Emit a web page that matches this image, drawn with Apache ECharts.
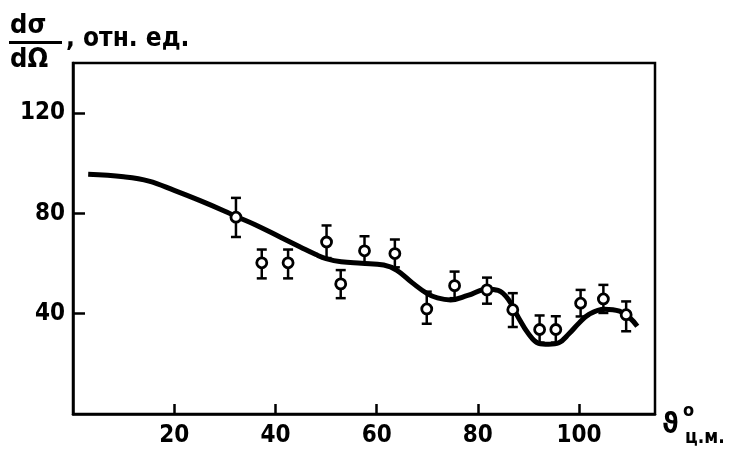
<!DOCTYPE html>
<html>
<head>
<meta charset="utf-8">
<script src="https://cdn.jsdelivr.net/npm/echarts@6/dist/echarts.min.js"></script>
<style>
html,body{margin:0;padding:0;background:#fff;}
#chart{width:730px;height:454px;}
</style>
</head>
<body>
<div id="chart"></div>
<script>
// measured points (angle in c.m. degrees, cross-section in relative units)
const angles = [32.2, 37.3, 42.5, 50.1, 52.9, 57.6, 63.6, 69.9, 75.4, 81.8, 86.9, 92.2, 95.4, 100.3, 104.8, 109.3];
const values = [78.5, 60.3, 60.3, 68.6, 51.9, 65.1, 64.0, 41.9, 51.2, 49.5, 41.6, 33.7, 33.7, 44.2, 45.9, 39.6];
const errUp  = [7.7, 5.3, 5.3, 6.6, 5.5, 5.8, 5.6, 6.9, 5.6, 4.9, 6.6, 5.6, 5.3, 5.3, 5.6, 5.3];
const errDown= [7.9, 6.2, 6.2, 6.4, 5.7, 4.9, 5.5, 5.9, 5.0, 5.5, 6.9, 5.2, 5.2, 5.3, 5.6, 6.6];
// theoretical curve
const curveX = [3, 10, 15, 20, 25, 30, 32, 36, 41, 45, 48, 50, 53, 57, 61.4, 64, 67, 70, 72, 74.6, 78, 81.8, 84, 86, 88, 90, 92, 94, 96, 98, 100, 102, 105, 108, 110, 111.5];
const curveY = [95.6, 94.6, 92.9, 89.2, 85.2, 80.9, 79.0, 75.5, 70.5, 66.5, 63.6, 62.0, 60.7, 60.1, 59.4, 57.3, 52.4, 48.0, 46.3, 45.5, 47.3, 49.8, 49.3, 45.8, 38.5, 32.0, 28.2, 27.8, 28.4, 32.0, 36.3, 39.8, 41.8, 41.0, 38.4, 35.0];
const xTicks = [20, 40, 60, 80, 100];
const yTicks = [40, 80, 120];

const font = "'DejaVu Sans Condensed', 'DejaVu Sans', sans-serif";
const chart = echarts.init(document.getElementById('chart'), null, {renderer: 'canvas'});

const points = angles.map((a, i) => [a, values[i]]);
const bars = angles.map((a, i) => [a, values[i] - errDown[i], values[i] + errUp[i]]);
const curve = curveX.map((x, i) => [x, curveY[i]]);

chart.setOption({
  animation: false,
  backgroundColor: '#fff',
  grid: {left: 73, right: 75, top: 63, bottom: 40, show: true, borderColor: '#000', borderWidth: 2.5, backgroundColor: 'transparent'},
  xAxis: {
    type: 'value', min: 0, max: 115, interval: 20,
    axisLine: {show: true, lineStyle: {color: '#000', width: 2.5}},
    axisTick: {show: true, inside: true, length: 10, lineStyle: {color: '#000', width: 2.5},
      customValues: xTicks},
    axisLabel: {show: true, color: '#000', fontFamily: font, fontWeight: 'bold', fontSize: 24, margin: 10,
      customValues: xTicks, formatter: v => xTicks.includes(v) ? String(v) : ''},
    splitLine: {show: false}
  },
  yAxis: {
    type: 'value', min: 0, max: 140, interval: 40,
    axisLine: {show: true, lineStyle: {color: '#000', width: 2.5}},
    axisTick: {show: true, inside: true, length: 12, lineStyle: {color: '#000', width: 2.5},
      customValues: yTicks},
    axisLabel: {show: true, color: '#000', fontFamily: font, fontWeight: 'bold', fontSize: 24, margin: 8,
      customValues: yTicks, formatter: v => yTicks.includes(v) ? String(v) : ''},
    splitLine: {show: false}
  },
  graphic: [
    {type: 'text', left: 10, top: 12, style: {text: 'dσ', font: "bold 27px " + font, fill: '#000'}},
    {type: 'rect', shape: {x: 9, y: 41, width: 53, height: 3}, style: {fill: '#000'}},
    {type: 'text', left: 10, top: 46, style: {text: 'dΩ', font: "bold 27px " + font, fill: '#000'}},
    {type: 'text', left: 66, top: 26, style: {text: ', отн. ед.', font: "bold 26px " + font, fill: '#000'}},
    {type: 'text', left: 662, top: 412, style: {text: 'ϑ', font: "bold 28px " + font, fill: '#000'}},
    {type: 'text', left: 683, top: 402, style: {text: 'o', font: "bold 18px " + font, fill: '#000'}},
    {type: 'text', left: 685, top: 429, style: {text: 'ц.м.', font: "bold 19px " + font, fill: '#000'}}
  ],
  series: [
    {
      type: 'line', data: curve, smooth: 0.4, showSymbol: false, symbol: 'none',
      lineStyle: {color: '#000', width: 5}, z: 2
    },
    {
      type: 'custom', data: bars, z: 3,
      renderItem: function (params, api) {
        const x = api.value(0), lo = api.value(1), hi = api.value(2);
        const t = api.coord([x, hi]), b = api.coord([x, lo]);
        const w = 5;
        const st = {stroke: '#000', lineWidth: 2.5};
        return {type: 'group', children: [
          {type: 'line', shape: {x1: t[0], y1: t[1], x2: b[0], y2: b[1]}, style: st},
          {type: 'line', shape: {x1: t[0] - w, y1: t[1], x2: t[0] + w, y2: t[1]}, style: st},
          {type: 'line', shape: {x1: b[0] - w, y1: b[1], x2: b[0] + w, y2: b[1]}, style: st}
        ]};
      }
    },
    {
      type: 'scatter', data: points, symbol: 'circle', symbolSize: 10, z: 4,
      itemStyle: {color: '#fff', borderColor: '#000', borderWidth: 2.8, opacity: 1}
    }
  ]
});
</script>
</body>
</html>
